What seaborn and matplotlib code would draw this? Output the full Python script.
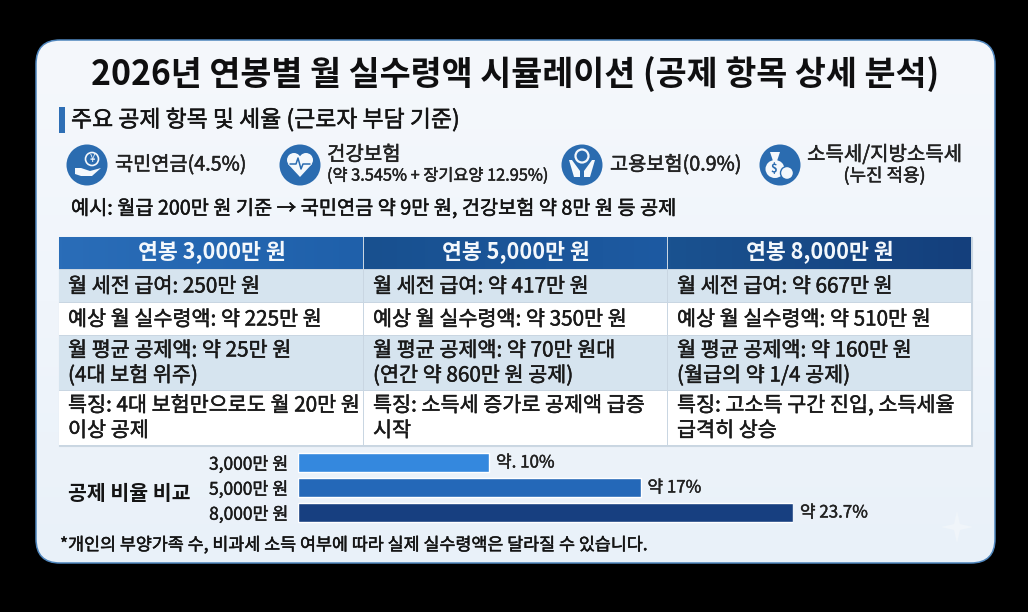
import numpy as np
import pandas as pd
import seaborn as sns
import matplotlib
matplotlib.use("Agg")
import matplotlib.pyplot as plt
import matplotlib.patheffects as pe
from matplotlib.patches import FancyBboxPatch, Rectangle, Circle, Polygon, Ellipse

sns.set_theme(style="white")
FONT = ["Noto Sans CJK KR", "DejaVu Sans"]
plt.rcParams["font.family"] = FONT

title = "2026년 연봉별 월 실수령액 시뮬레이션 (공제 항목 상세 분석)"
subtitle = "주요 공제 항목 및 세율 (근로자 부담 기준)"
example = "예시: 월급 200만 원 기준 → 국민연금 약 9만 원, 건강보험 약 8만 원 등 공제"
footnote = "*개인의 부양가족 수, 비과세 소득 여부에 따라 실제 실수령액은 달라질 수 있습니다."
headers = ["연봉 3,000만 원", "연봉 5,000만 원", "연봉 8,000만 원"]
rows = [
    ["월 세전 급여: 250만 원", "월 세전 급여: 약 417만 원", "월 세전 급여: 약 667만 원"],
    ["예상 월 실수령액: 약 225만 원", "예상 월 실수령액: 약 350만 원", "예상 월 실수령액: 약 510만 원"],
    ["월 평균 공제액: 약 25만 원\n(4대 보험 위주)", "월 평균 공제액: 약 70만 원대\n(연간 약 860만 원 공제)", "월 평균 공제액: 약 160만 원\n(월급의 약 1/4 공제)"],
    ["특징: 4대 보험만으로도 월 20만 원\n이상 공제", "특징: 소득세 증가로 공제액 급증\n시작", "특징: 고소득 구간 진입, 소득세율\n급격히 상승"],
]
bar_categories = ["3,000만 원", "5,000만 원", "8,000만 원"]
bar_values = [9.15, 16.4, 23.7]
bar_labels = ["약. 10%", "약 17%", "약 23.7%"]
bar_colors = ["#3488DE", "#2468B8", "#173F80"]

W, H = 1028, 612
fig = plt.figure(figsize=(W / 100, H / 100), dpi=100, facecolor="black")
ax = fig.add_axes([0, 0, 1, 1])
ax.set_xlim(0, W); ax.set_ylim(H, 0); ax.axis("off")

# card
clip = FancyBboxPatch((36, 40), 959, 523, boxstyle="round,pad=0,rounding_size=24",
                      fc="#F1F6FB", ec="none", zorder=1)
ax.add_patch(clip)
grad = np.linspace(0, 1, 200)[:, None]
cmap = matplotlib.colors.LinearSegmentedColormap.from_list("c", ["#F5F8FC", "#F0F5FB", "#E9F1F9"])
im = ax.imshow(grad, extent=(36, 995, 563, 40), cmap=cmap, aspect="auto", zorder=1.1)
im.set_clip_path(clip)
ax.add_patch(FancyBboxPatch((36, 40), 959, 523, boxstyle="round,pad=0,rounding_size=24",
                            fc="none", ec="#4F86BD", lw=1.1, zorder=1.2))


def T(x, y, s, size, weight="normal", ha="left", color="#141414", stroke=0.35, **kw):
    t = ax.text(x, y, s, fontsize=size, fontweight=weight, ha=ha, va="center",
                color=color, family=FONT, zorder=5, **kw)
    if stroke:
        t.set_path_effects([pe.withStroke(linewidth=stroke, foreground=color)])
    return t


T(515.5, 74, title, 24.3, "bold", ha="center", color="#0F0F10", stroke=0)
ax.add_patch(Rectangle((59, 107), 6, 26, fc="#2E6FB5", ec="none", zorder=4))
T(71, 120, subtitle, 16.5)

# icons
BLUE = "#2B6CB0"
for cx in (87, 300, 582, 780):
    ax.add_patch(Circle((cx, 165), 20.5, fc=BLUE, ec="none", zorder=4))
W_ = "#F4F8FC"
# hand + coin
ax.add_patch(Circle((92, 159), 6.5, fc="none", ec=W_, lw=1.2, zorder=5))
T(92, 159, "¥", 7, ha="center", color=W_, stroke=0)
ax.add_patch(Polygon([[75, 168], [81, 168], [90, 171], [101, 168], [92, 176], [81, 176], [75, 174]], fc=W_, ec="none", zorder=5))
# heart with pulse
ax.add_patch(Circle((294, 160), 7, fc=W_, ec="none", zorder=5))
ax.add_patch(Circle((306, 160), 7, fc=W_, ec="none", zorder=5))
ax.add_patch(Polygon([[288, 164], [312, 164], [300, 177]], fc=W_, ec="none", zorder=5))
ax.plot([290, 296, 298, 301, 303, 310], [164, 164, 158, 169, 164, 164], color=BLUE, lw=1.1, zorder=6)
# two hands with globe
ax.add_patch(Circle((582, 156), 6.5, fc="none", ec=W_, lw=1.6, zorder=5))
ax.add_patch(Polygon([[569, 160], [572, 160], [580, 171], [580, 177], [574, 177]], fc=W_, ec="none", zorder=5))
ax.add_patch(Polygon([[595, 160], [592, 160], [584, 171], [584, 177], [590, 177]], fc=W_, ec="none", zorder=5))
# money bag
ax.add_patch(Ellipse((775, 169), 19, 18, fc=W_, ec="none", zorder=5))
ax.add_patch(Polygon([[770, 152], [780, 152], [777, 161], [773, 161]], fc=W_, ec="none", zorder=5))
ax.add_patch(Circle((787, 173), 6.5, fc=W_, ec=BLUE, lw=1, zorder=6))
T(774, 169, "$", 8, "bold", ha="center", color=BLUE, stroke=0)
T(787, 173, "$", 6.5, "bold", ha="center", color=BLUE, stroke=0)

T(115, 165, "국민연금(4.5%)", 14.2, color="#222222")
T(327, 155, "건강보험", 14.4, color="#222222")
T(327, 176, "(약 3.545% + 장기요양 12.95%)", 11.75, color="#222222")
T(610, 165, "고용보험(0.9%)", 14.2, color="#222222")
T(884.5, 155, "소득세/지방소득세", 14.4, ha="center", color="#222222")
T(884.5, 176, "(누진 적용)", 12.9, ha="center", color="#222222")
T(71, 209, example, 14.2)

# table
col_x = [59, 364, 668, 972]
row_y = [270, 303, 336, 391, 446]
head_cols = [("#2A6DB8", "#1F60AA"), ("#18508F", "#1D5AA2"), ("#1A5290", "#143F7C")]
row_cols = ["#D6E4EF", "#FFFFFF", "#D6E4EF", "#FFFFFF"]
ax.add_patch(Rectangle((59, 237), 913, 209, fc="#C9D6E2", ec="#CBD7E2", lw=0.8, zorder=2.5))
for c in range(3):
    x0, x1 = col_x[c], col_x[c + 1]
    hc = matplotlib.colors.LinearSegmentedColormap.from_list("h", head_cols[c])
    ax.imshow(np.linspace(0, 1, 100)[None, :], extent=(x0, x1 - 1, 269, 237), cmap=hc,
              aspect="auto", zorder=3)
    T((x0 + x1) / 2, 253, headers[c], 15.6, "bold", ha="center", color="#F4F8FC", stroke=0)
    for r in range(4):
        ax.add_patch(Rectangle((x0, row_y[r]), x1 - x0 - 1, row_y[r + 1] - row_y[r] - 1,
                               fc=row_cols[r], ec="none", zorder=3))
        offs = 0 if r < 2 else -0.5
        T(x0 + 9, (row_y[r] + row_y[r + 1]) / 2 + offs, rows[r][c], 14.9,
          linespacing=1.18, color="#1A1A1A")
ax.set_xlim(0, W); ax.set_ylim(H, 0)

# bars
T(129, 493, "공제 비율 비교", 14.8, "bold", ha="center", stroke=0)
bax = fig.add_axes([298 / W, 1 - 525 / H, 495 / W, 75 / H])
df = pd.DataFrame({"salary": bar_categories, "rate": bar_values})
sns.barplot(data=df, y="salary", x="rate", hue="salary", palette=bar_colors, legend=False,
            width=0.74, saturation=1, ax=bax)
bax.set_xlim(0, 23.7)
bax.set_ylim(2.5, -0.5)
bax.patch.set_alpha(0)
bax.set_xlabel(""); bax.set_ylabel("")
bax.set_xticks([])
bax.tick_params(axis="y", length=0, pad=7, labelsize=12.5, labelcolor="#1A1A1A")
for t in bax.get_yticklabels():
    t.set_path_effects([pe.withStroke(linewidth=0.3, foreground="#1A1A1A")])
sns.despine(ax=bax, left=True, bottom=True)
for p, lab in zip(bax.patches, bar_labels):
    a = bax.annotate(lab, (p.get_width(), p.get_y() + p.get_height() / 2), xytext=(5, 0),
                     textcoords="offset points", va="center", ha="left", fontsize=12.2,
                     color="#222222", annotation_clip=False, family=FONT)
    a.set_path_effects([pe.withStroke(linewidth=0.3, foreground="#222222")])

# faint sparkle mark in the corner
ax.add_patch(Polygon([[957, 511], [960, 524], [973, 527], [960, 530], [957, 543], [954, 530], [941, 527], [954, 524]],
                     fc="#F0F5FA", ec="none", zorder=2))

T(60, 545, footnote, 12.5)
fig.savefig("out.png", dpi=100, facecolor="black")
